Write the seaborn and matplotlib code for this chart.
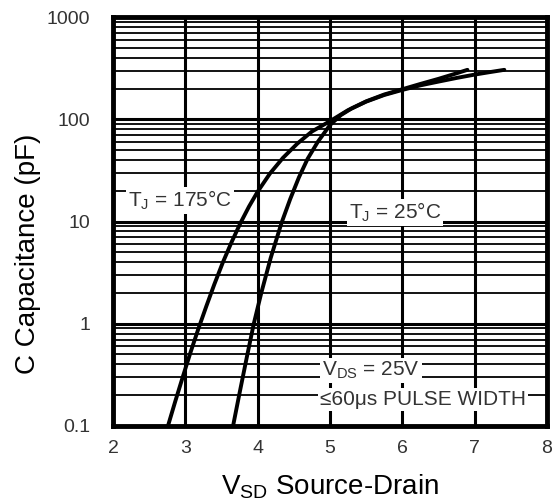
import matplotlib
matplotlib.use("Agg")
import matplotlib.pyplot as plt
import matplotlib.ticker as mticker
import seaborn as sns
import numpy as np
import pandas as pd

sns.set_theme(style="white")
plt.rcParams['font.family'] = ['Liberation Sans', 'DejaVu Sans']
plt.rcParams['mathtext.fontset'] = 'custom'
plt.rcParams['mathtext.rm'] = 'Liberation Sans'
plt.rcParams['mathtext.it'] = 'Liberation Sans'

# values
vsd_175 = [2.76, 2.86, 2.97, 3.07, 3.18, 3.29, 3.40, 3.52, 3.64, 3.76, 3.88, 4.00, 4.17, 4.35,
           4.55, 4.75, 5.00, 5.25, 5.50, 5.75, 6.00, 6.25, 6.50, 6.75, 7.00, 7.20, 7.41]
cap_175 = [0.10, 0.173, 0.31, 0.52, 0.89, 1.48, 2.42, 4.0, 6.3, 9.6, 14, 19.6, 29.5, 42,
           58, 76, 96, 123, 149, 173, 194, 215, 234, 254, 274, 289, 305]

vsd_25 = [3.66, 3.75, 3.85, 3.945, 4.05, 4.18, 4.33, 4.45, 4.57, 4.69, 4.83,
          5.00, 5.15, 5.30, 5.50, 5.75, 6.00, 6.25, 6.50, 6.70, 6.90]
cap_25 = [0.10, 0.21, 0.47, 0.99, 2.0, 4.4, 9.7, 16.6, 27, 41, 60,
          88, 110, 128, 150, 175, 197, 222, 249, 275, 305]

y_ticks = [0.1, 1, 10, 100, 1000]
y_tick_labels = ["0.1", "1", "10", "100", "1000"]
x_ticks = [2, 3, 4, 5, 6, 7, 8]

df = pd.concat([
    pd.DataFrame({'vsd': vsd_175, 'cap': cap_175, 'tj': '175'}),
    pd.DataFrame({'vsd': vsd_25, 'cap': cap_25, 'tj': '25'}),
])

fig = plt.figure(figsize=(5.55, 5.04), dpi=100)
ax = fig.add_subplot(111)
fig.subplots_adjust(left=0.2036, right=0.9856, bottom=0.155, top=0.966)

sns.lineplot(data=df, x='vsd', y='cap', hue='tj', palette=['black', 'black'],
             estimator=None, sort=False, legend=False, lw=2.8, ax=ax, zorder=4)

ax.set_yscale('log')
ax.set_xlim(2, 8)
ax.set_ylim(0.1, 1000)
ax.set_xticks(x_ticks)
ax.set_yticks(y_ticks)
ax.set_yticklabels(y_tick_labels)
ax.yaxis.set_minor_locator(mticker.LogLocator(base=10, subs=np.arange(2, 10)))
ax.yaxis.set_minor_formatter(mticker.NullFormatter())

ax.grid(which='major', axis='both', color='black', lw=2.2, zorder=1)
ax.grid(which='minor', axis='y', color='black', lw=1.3, zorder=1)
ax.set_axisbelow(True)
for s in ax.spines.values():
    s.set_color('black')
    s.set_linewidth(3.5)
    s.set_zorder(5)

ax.tick_params(which='both', length=0)
ax.tick_params(axis='y', pad=16.5, labelsize=14, labelcolor='#333333')
ax.tick_params(axis='x', pad=10, labelsize=14, labelcolor='#333333')

ax.set_xlabel(r"V$_{\mathrm{SD}}$ Source-Drain", fontsize=20, color='black', labelpad=11)
ax.set_ylabel("C Capacitance (pF)", fontsize=20, color='black')
ax.yaxis.set_label_coords(-0.166, 0.42)

box = dict(facecolor='white', edgecolor='none', pad=1.5)
ax.text(2.93, 16, r"T$_{\mathrm{J}}$ = 175°C", fontsize=15, color='#333333',
        ha='center', va='center', bbox=box, zorder=3)
ax.text(5.9, 12.2, r"T$_{\mathrm{J}}$ = 25°C", fontsize=15, color='#333333',
        ha='center', va='center', bbox=box, zorder=3)
ax.text(4.89, 0.35, r"V$_{\mathrm{DS}}$ = 25V", fontsize=15, color='#333333',
        ha='left', va='center', bbox=box, zorder=3)
ax.text(4.86, 0.18, "≤60μs PULSE WIDTH", fontsize=15, color='#333333',
        ha='left', va='center', bbox=box, zorder=3)

fig.savefig('out.png', dpi=100)
